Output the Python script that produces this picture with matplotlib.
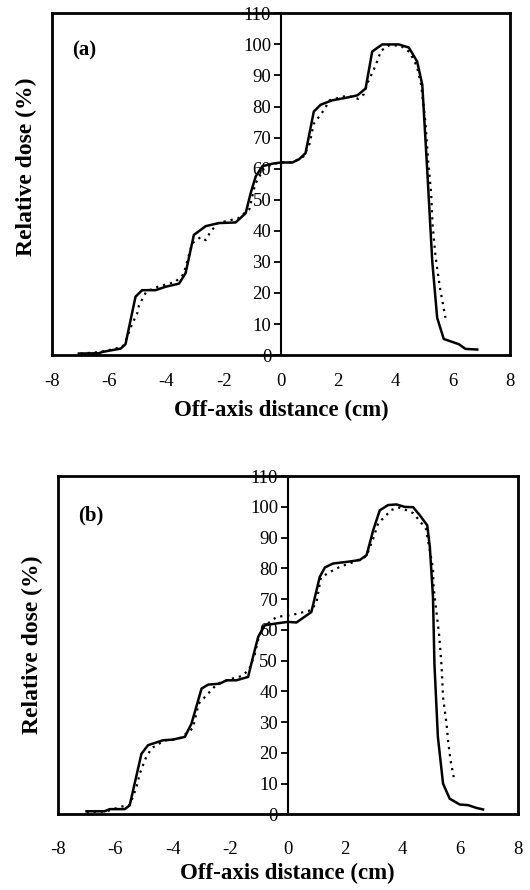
import matplotlib
matplotlib.use("Agg")
import matplotlib.pyplot as plt

plt.rcParams['font.family'] = ['Liberation Serif', 'DejaVu Serif']

# === DATA: panel (a) ===
a_solid_x = [-7.06, -6.36, -6.25, -5.6, -5.43, -5.08, -4.85, -4.38, -4.03, -3.56, -3.33, -3.04,
             -2.63, -2.17, -1.58, -1.23, -1.06, -0.88, -0.65, -0.30, 0.0, 0.40, 0.63, 0.86,
             1.15, 1.39, 1.79, 2.26, 2.67, 2.96, 3.19, 3.54, 4.12, 4.47, 4.76, 4.94, 5.11,
             5.29, 5.46, 5.69, 6.22, 6.45, 6.86]
a_solid_y = [0.5, 0.6, 1.0, 2.1, 3.5, 18.8, 20.9, 20.9, 22.0, 23.0, 26.4, 38.7,
             41.5, 42.5, 42.7, 45.7, 52.0, 57.5, 60.8, 61.6, 62.0, 62.0, 63.0, 65.0,
             78.4, 80.6, 82.0, 82.8, 83.6, 85.8, 97.7, 100.0, 100.0, 99.0, 94.5, 87.0, 60.0,
             30.0, 12.0, 5.2, 3.5, 2.0, 1.8]
a_dot_x = [-7.0, -6.3, -5.6, -5.48, -5.2, -5.02, -4.96, -4.7, -4.3, -3.7, -3.4, -3.1, -2.8,
           -2.63, -2.46, -2.2, -1.5, -1.1, -0.9, -0.6, -0.3, 0.0, 0.4, 0.8, 1.0, 1.15, 1.5,
           1.7, 2.3, 2.7, 2.9, 3.05, 3.3, 3.5, 3.8, 4.2, 4.5, 4.75, 4.9, 5.05, 5.15, 5.25,
           5.3, 5.4, 5.55, 5.75]
a_dot_y = [0.5, 1.0, 2.5, 3.2, 10.0, 13.4, 16.0, 20.5, 22.0, 23.5, 26.0, 36.0, 38.0,
           37.0, 39.7, 42.5, 44.0, 47.0, 55.0, 60.0, 61.5, 62.0, 62.0, 64.0, 68.0, 74.5, 78.8,
           82.0, 83.5, 82.5, 84.0, 88.0, 93.0, 98.0, 99.8, 99.5, 97.5, 93.0, 87.0, 75.0, 62.0, 52.0,
           42.0, 32.0, 22.0, 12.0]

# === DATA: panel (b) ===
b_solid_x = [-7.0, -6.37, -6.19, -5.67, -5.5, -5.09, -4.86, -4.34, -4.0, -3.58, -3.35, -3.0,
             -2.77, -2.37, -2.13, -1.79, -1.38, -1.21, -1.03, -0.8, -0.39, 0.0, 0.30, 0.82,
             1.11, 1.29, 1.58, 2.04, 2.5, 2.74, 2.97, 3.2, 3.49, 3.78, 4.07, 4.36, 4.59, 4.85,
             4.94, 5.05, 5.1, 5.22, 5.4, 5.63, 5.98, 6.27, 6.56, 6.79]
b_solid_y = [1.0, 1.0, 1.7, 1.7, 2.9, 19.7, 22.5, 24.1, 24.3, 25.2, 29.5, 40.9,
             42.2, 42.5, 43.6, 43.6, 44.7, 51.2, 57.7, 61.5, 62.1, 62.6, 62.4, 65.8,
             77.2, 80.3, 81.6, 82.1, 82.7, 84.3, 92.4, 98.9, 100.6, 100.8, 100.0, 99.9, 97.3, 94.0,
             87.0, 70.7, 49.0, 25.2, 10.0, 5.1, 3.2, 3.0, 2.1, 1.6]
b_dot_x = [-7.0, -6.3, -5.8, -5.5, -5.26, -5.15, -4.95, -4.74, -4.3, -3.8, -3.5, -3.3, -3.1,
           -2.77, -2.45, -2.0, -1.6, -1.35, -1.15, -1.0, -0.85, -0.39, 0.16, 0.82, 1.0, 1.15,
           1.46, 1.81, 2.27, 2.74, 2.97, 3.14, 3.6, 3.9, 4.36, 4.8, 5.05, 5.07, 5.17, 5.26,
           5.35, 5.4, 5.52, 5.58, 5.66, 5.77]
b_dot_y = [0.7, 1.0, 2.5, 3.0, 8.9, 13.2, 18.1, 21.5, 24.0, 24.5, 26.5, 28.0, 36.0,
           39.3, 42.5, 44.0, 45.0, 47.0, 52.0, 58.0, 61.0, 64.2, 64.9, 66.4, 69.0, 77.0,
           78.8, 80.5, 82.0, 84.0, 89.7, 94.6, 99.0, 99.8, 98.0, 93.0, 80.0, 74.0, 65.8, 58.8,
           48.0, 38.0, 29.5, 23.5, 17.6, 12.1]

x_ticks = [-8, -6, -4, -2, 0, 2, 4, 6, 8]
y_ticks = list(range(0, 111, 10))

# label, data, axes rect, x tick pad, xlabel pad, ylabel y pos, panel-label y
panels = [
    ("(a)", a_solid_x, a_solid_y, a_dot_x, a_dot_y, [0.098, 0.601, 0.864, 0.384], 13, 7, 0.55, 0.89),
    ("(b)", b_solid_x, b_solid_y, b_dot_x, b_dot_y, [0.109, 0.085, 0.868, 0.380], 19, 4, 0.5, 0.885),
]

fig = plt.figure(figsize=(5.3, 8.9), dpi=100)

for label, sx, sy, dx, dy, rect, xpad, lpad, ylab_y, lab_y in panels:
    ax = fig.add_axes(rect)
    ax.plot(sx, sy, color='black', lw=1.8, solid_joinstyle='round')
    ax.plot(dx, dy, color='black', lw=1.6, linestyle=(0, (1, 2.2)))

    ax.set_xlim(-8, 8)
    ax.set_ylim(0, 110)

    # y axis sits at x = 0, box drawn around the whole plot area
    ax.spines['left'].set_position(('data', 0))
    ax.spines['left'].set_linewidth(1.5)
    for side in ['top', 'right', 'bottom']:
        ax.spines[side].set_linewidth(2)
    ax.plot([0, 0], [0, 1], transform=ax.transAxes, color='black', lw=2, clip_on=False)

    ax.set_xticks(x_ticks)
    ax.set_xticklabels([str(t) for t in x_ticks])
    ax.set_yticks(y_ticks)
    ax.tick_params(axis='x', length=0, pad=xpad, labelsize=13.5)
    ax.tick_params(axis='y', direction='out', length=5, width=1.3, pad=2, labelsize=13.5)

    ax.set_ylabel("Relative dose (%)", fontsize=17, fontweight='bold')
    ax.yaxis.set_label_coords(-0.033, ylab_y, transform=ax.transAxes)
    ax.set_xlabel("Off-axis distance (cm)", fontsize=16.5, fontweight='bold', labelpad=lpad)

    ax.text(0.045, lab_y, label, transform=ax.transAxes, fontsize=15, fontweight='bold',
            ha='left', va='center')

fig.savefig("out.png", dpi=100)
